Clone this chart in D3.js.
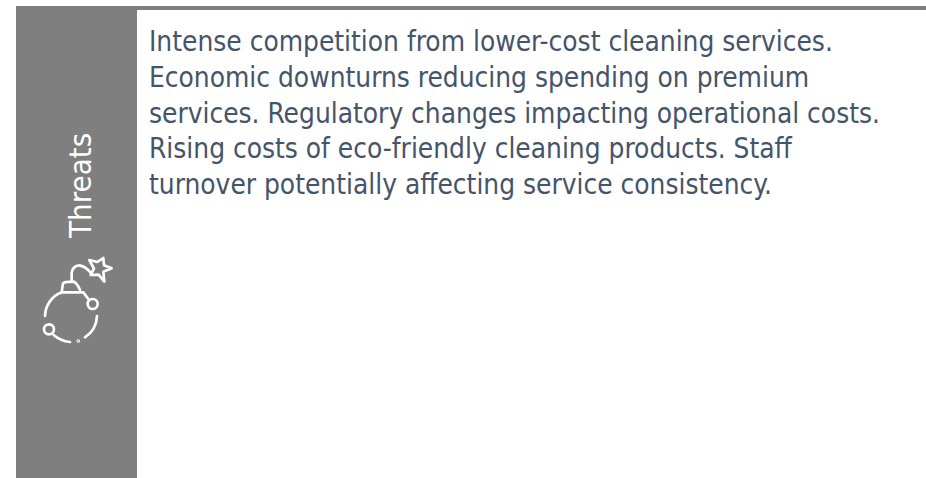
<!DOCTYPE html>
<html>
<head>
<meta charset="utf-8">
<script src="https://cdn.jsdelivr.net/npm/d3@7"></script>
<style>
  html, body { margin: 0; padding: 0; background: #fff; }
  svg { display: block; }
  text { font-family: "DejaVu Sans Condensed", "DejaVu Sans", sans-serif; font-stretch: condensed; }
</style>
</head>
<body>
<div id="chart"></div>
<script>
var title = "Threats";
var lines = [
    "Intense competition from lower-cost cleaning services.",
    "Economic downturns reducing spending on premium",
    "services. Regulatory changes impacting operational costs.",
    "Rising costs of eco-friendly cleaning products. Staff",
    "turnover potentially affecting service consistency."
];

var width = 926, height = 478;
var grey = "#7f7f7f", ink = "#44546a";

var svg = d3.select("#chart").append("svg")
    .attr("width", width)
    .attr("height", height);

// top rule and the side band
svg.append("rect").attr("x", 16).attr("y", 6).attr("width", width - 16).attr("height", 4).attr("fill", grey);
svg.append("rect").attr("x", 16).attr("y", 6).attr("width", 121).attr("height", height - 6).attr("fill", grey);

// text lines
var y = d3.scalePoint().domain(d3.range(lines.length)).range([51, 194]);
svg.selectAll(".line")
    .data(lines)
  .enter().append("text")
    .attr("class", "line")
    .attr("x", 149)
    .attr("y", function(d, i) { return y(i); })
    .attr("font-size", 27.8)
    .attr("fill", ink)
    .text(function(d) { return d; });

// band label
svg.append("text")
    .attr("transform", "translate(91,238) rotate(-90)")
    .attr("font-size", 31)
    .attr("fill", "#fff")
    .text(title);

// bomb icon, drawn at 3x and scaled down
var icon = svg.append("g")
    .attr("transform", "translate(20,230) scale(0.3333)")
    .attr("fill", "none")
    .attr("stroke", "#fff")
    .attr("stroke-width", 8)
    .attr("stroke-linecap", "round")
    .attr("stroke-linejoin", "round");

icon.append("path").attr("d", "M75,258 A78,78 0 0 1 125,187 L190,187 L205,207");
icon.append("path").attr("d", "M125,187 L129,160 Q133,155 160,155 Q170,157 180,180");
icon.append("circle").attr("cx", 218).attr("cy", 222).attr("r", 15);
icon.append("path").attr("d", "M231,258 A80,80 0 0 1 195,322");
icon.append("path").attr("d", "M150,336 Q122,333 101,315");
icon.append("circle").attr("cx", 87).attr("cy", 298).attr("r", 15);
icon.append("circle").attr("cx", 175).attr("cy", 333).attr("r", 1.5);
icon.append("path").attr("d", "M155,150 L155,128 Q158,108 178,106 Q195,108 212,128");
icon.append("path").attr("d", "M208,90 L232,96 L250,84 L252,106 L275,115 L250,125 L253,155 L236,134 L212,135 L222,116 Z");
</script>
</body>
</html>
